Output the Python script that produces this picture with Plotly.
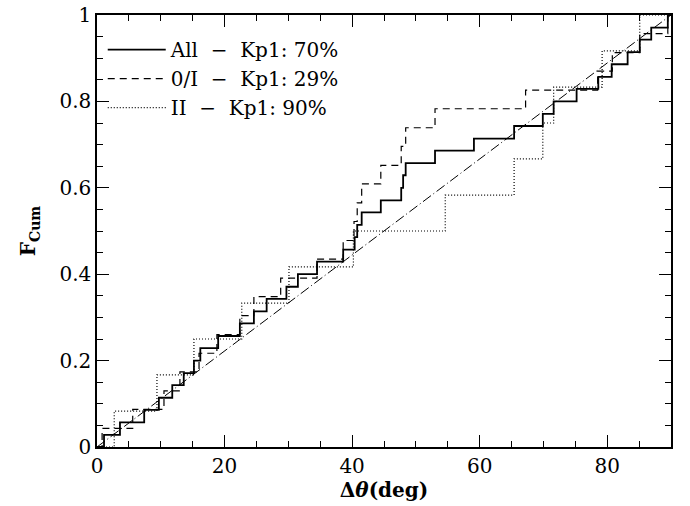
import plotly.graph_objects as go

# step positions (deg) and cumulative fraction reached at each step
all_x = [0, 1.1, 3.6, 7.4, 9.7, 11.8, 13.6, 15.2, 16.2, 19.0, 22.4, 24.6, 26.6, 29.7,
         31.5, 34.5, 38.6, 40.4, 40.8, 41.5, 44.5, 47.7, 48.0, 48.4, 53.0, 59.1,
         65.4, 69.9, 71.6, 75.2, 78.6, 80.7, 83.2, 85.1, 86.9, 89.5, 90]
all_f = [0, 0.028, 0.057, 0.086, 0.114, 0.143, 0.171, 0.2, 0.229, 0.257, 0.286, 0.314,
         0.343, 0.371, 0.4, 0.429, 0.457, 0.486, 0.514, 0.543, 0.571, 0.6, 0.629,
         0.657, 0.686, 0.714, 0.743, 0.771, 0.8, 0.829, 0.857, 0.886, 0.914, 0.943,
         0.971, 1.0, 1.0]

oi_x = [0, 0.8, 5.6, 10.5, 13.0, 16.0, 18.8, 22.4, 24.6, 28.8, 34.5, 38.6, 40.3,
        40.8, 41.5, 44.5, 47.7, 48.4, 53.0, 67.2, 78.5, 80.8, 85.1, 89.5, 90]
oi_f = [0, 0.043, 0.087, 0.13, 0.174, 0.217, 0.26, 0.304, 0.348, 0.391, 0.435, 0.478,
        0.522, 0.565, 0.609, 0.652, 0.696, 0.739, 0.783, 0.826, 0.87, 0.913, 0.957,
        1.0, 1.0]

ii_x = [0, 2.7, 9.4, 15.2, 22.7, 30.1, 40.2, 54.6, 65.4, 69.9, 71.6, 79.2, 85.1, 90]
ii_f = [0, 0.083, 0.167, 0.25, 0.333, 0.417, 0.5, 0.583, 0.667, 0.75, 0.833, 0.917,
        1.0, 1.0]

uni_x = [0, 90]
uni_f = [0, 1]

labels = ["All  \u2212  Kp1: 70%", "0/I  \u2212  Kp1: 29%", "II  \u2212  Kp1: 90%"]

FONT = "DejaVu Serif"

fig = go.Figure()
fig.add_trace(go.Scatter(x=all_x, y=all_f, mode='lines', line_shape='hv', name=labels[0],
                         line=dict(color='black', width=1.8)))
fig.add_trace(go.Scatter(x=oi_x, y=oi_f, mode='lines', line_shape='hv', name=labels[1],
                         line=dict(color='black', width=1.2, dash='7px,5px')))
fig.add_trace(go.Scatter(x=ii_x, y=ii_f, mode='lines', line_shape='hv', name=labels[2],
                         line=dict(color='black', width=1.2, dash='1px,2px')))
fig.add_trace(go.Scatter(x=uni_x, y=uni_f, mode='lines', showlegend=False,
                         line=dict(color='black', width=1, dash='10px,3px,1px,3px')))

axis_common = dict(
    showline=True, linecolor='black', linewidth=1.5, mirror='allticks',
    ticks='inside', ticklen=12, tickwidth=1.2, tickcolor='black',
    showgrid=False, zeroline=False, automargin=False, ticklabeloverflow='allow',
    tickfont=dict(family=FONT, size=20, color='black'),
)

fig.update_xaxes(range=[0, 90], tickvals=[0, 20, 40, 60, 80],
                 minor=dict(dtick=5, ticklen=6, tickwidth=1, tickcolor='black', ticks='inside'),
                 title=dict(text="<b>\u0394<i>\u03b8</i>(deg)</b>", font=dict(family=FONT, size=20, color='black'),
                            standoff=2),
                 **axis_common)
fig.update_yaxes(range=[0, 1], tickvals=[0, 0.2, 0.4, 0.6, 0.8, 1],
                 ticktext=["0", "0.2", "0.4", "0.6", "0.8", "1"],
                 minor=dict(dtick=0.05, ticklen=6, tickwidth=1, tickcolor='black', ticks='inside'),
                 title=dict(text="<b>F<sub>Cum</sub></b>", font=dict(family=FONT, size=20, color='black'),
                            standoff=18),
                 **axis_common)

fig.update_layout(
    width=690, height=506,
    margin=dict(l=97, r=19, t=15, b=59),
    plot_bgcolor='white', paper_bgcolor='white',
    legend=dict(x=0.01, y=0.965, xanchor='left', yanchor='top', bgcolor='rgba(0,0,0,0)',
                font=dict(family=FONT, size=20, color='black'), tracegroupgap=0,
                itemwidth=58),
)

# drop the browser's default body margin so the figure fills the window exactly
fig.write_html("out.html", config={'displayModeBar': False},
               post_script="document.body.style.margin='0';")
